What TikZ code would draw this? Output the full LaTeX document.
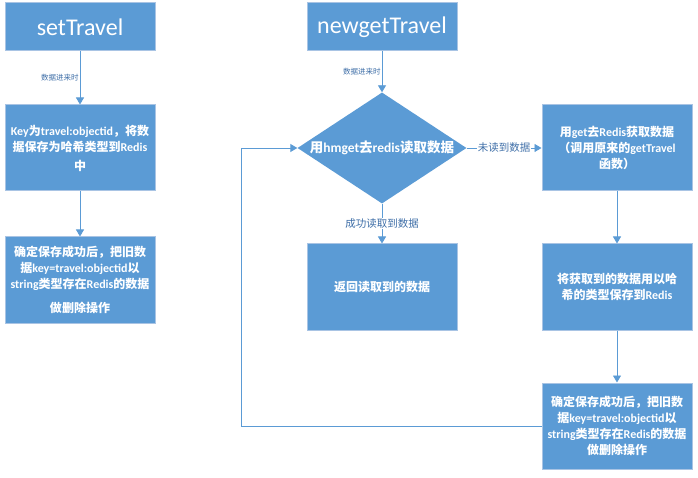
\documentclass[tikz,border=0pt]{standalone}
\usepackage{fontspec}
\setmainfont{Carlito}
\newfontfamily\cjk{Noto Sans CJK SC}
\usetikzlibrary{arrows.meta,shapes.geometric}
\definecolor{boxfill}{HTML}{5B9BD5}
\definecolor{boxline}{HTML}{A9C4E4}
\definecolor{arr}{HTML}{5B9BD5}
\definecolor{lbl}{HTML}{3F6FA8}
\newcommand\zh[1]{{\cjk #1}}
\tikzset{
  x=1pt,y=-1pt,
  box/.style={draw=boxline,line width=1pt,fill=boxfill,text=white,minimum width=150pt,minimum height=86pt,inner sep=0pt,align=center,font=\bfseries\fontsize{12}{16}\selectfont},
  title/.style={draw=boxline,line width=1pt,fill=boxfill,text=white,minimum width=150pt,minimum height=48pt,inner sep=0pt,font=\fontsize{24}{28}\selectfont},
  conn/.style={draw=arr,line width=0.9pt,-{Triangle[width=8pt,length=7pt]}},
  elab/.style={text=lbl,font=\fontsize{7.5}{9}\selectfont\cjk,inner sep=1pt},
  elabb/.style={text=lbl,font=\fontsize{10.5}{12}\selectfont\cjk,fill=white,inner sep=1pt},
}
\begin{document}
\begin{tikzpicture}
\useasboundingbox[fill=white] (0,0) rectangle (698,478);
% left column
\node[title] (t1) at (80,27) {setTravel};
\node[box] (b1) at (80,148) {Key\zh{为}travel:objectid\zh{，将数}\\\zh{据保存为哈希类型到}Redis\\[3pt]\zh{中}};
\node[box] (b2) at (80,280) {\zh{确定保存成功后，把旧数}\\\zh{据}key=travel:objectid\zh{以}\\string\zh{类型存在}Redis\zh{的数据}\\[8pt]\zh{做删除操作}};
% middle column
\node[title] (t2) at (382,27) {newgetTravel};
\node[diamond,fill=boxfill,text=white,minimum width=169pt,minimum height=111pt,inner sep=0pt,font=\bfseries\fontsize{13.5}{16}\selectfont] (d) at (382,148) {\makebox[0pt]{\zh{用}hmget\zh{去}redis\zh{读取数据}}};
\node[box] (m1) at (382,287) {\zh{返回读取到的数据}};
% right column
\node[box] (r1) at (617,148) {\zh{用}get\zh{去}Redis\zh{获取数据}\\\zh{（调用原来的}getTravel\\\zh{函数）}};
\node[box] (r2) at (617,287) {\zh{将获取到的数据用以哈}\\\zh{希的类型保存到}Redis};
\node[box] (r3) at (617,426) {\zh{确定保存成功后，把旧数}\\\zh{据}key=travel:objectid\zh{以}\\string\zh{类型存在}Redis\zh{的数据}\\\zh{做删除操作}};
% connectors
\draw[conn] (t1) -- node[elab,anchor=east,pos=0.5] {数据进来时} (b1);
\draw[conn] (b1) -- (b2);
\draw[conn] (t2) -- node[elab,anchor=east,pos=0.5] {数据进来时} (d);
\draw[conn] (d) -- node[elabb] {未读到数据} (r1);
\draw[conn] (d) -- node[elabb] {成功读取到数据} (m1);
\draw[conn] (r1) -- (r2);
\draw[conn] (r2) -- (r3);
\draw[conn] (r3.west) -- ++(-300,0) |- (d.west);
\end{tikzpicture}
\end{document}
